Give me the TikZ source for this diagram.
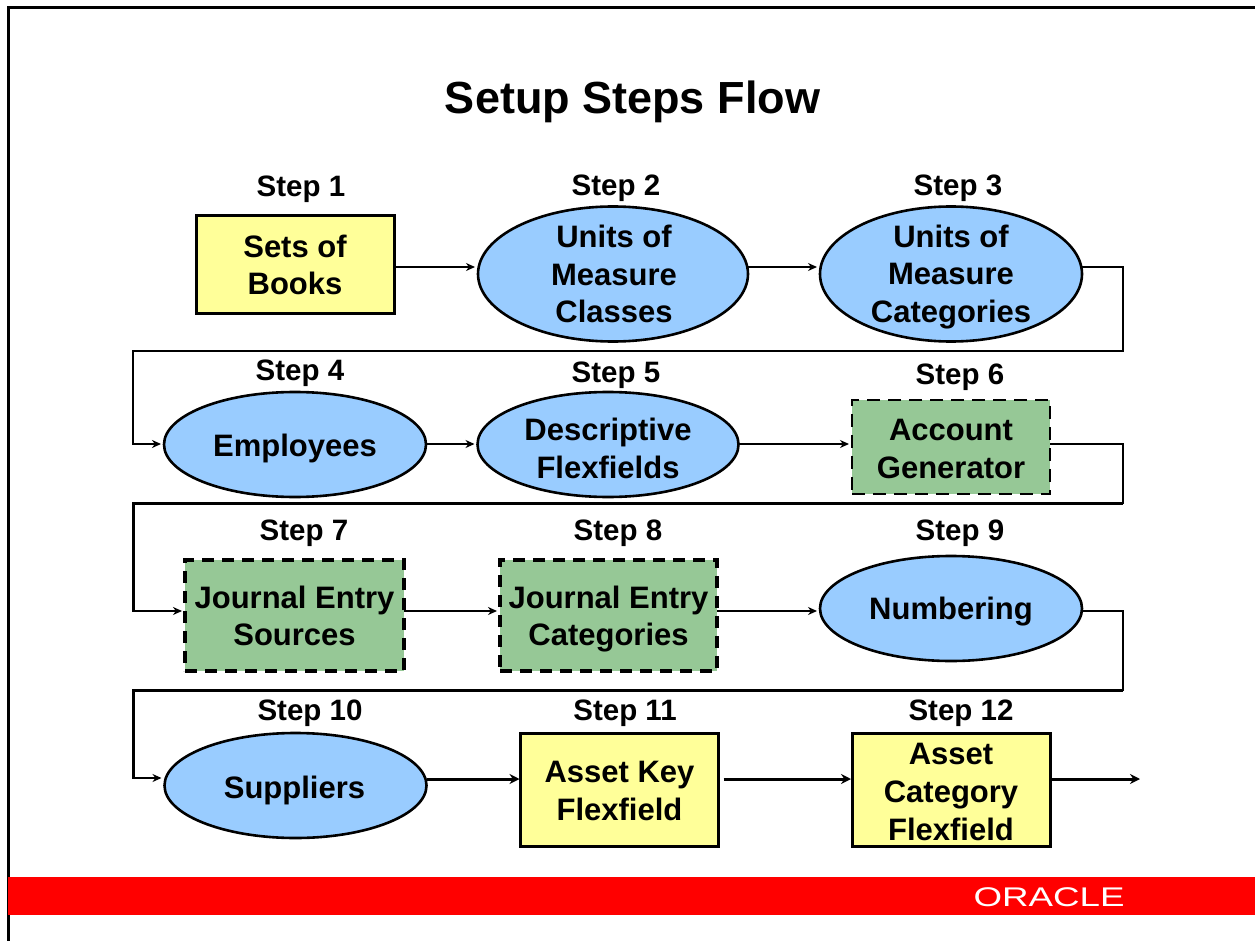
\documentclass[tikz,border=0pt]{standalone}
\usepackage{fontspec}
\setmainfont{Liberation Sans}
\usetikzlibrary{shapes.geometric,arrows.meta,calc}
\definecolor{byel}{HTML}{FFFF99}
\definecolor{bblu}{HTML}{99CCFF}
\definecolor{bgrn}{HTML}{96C896}
\tikzset{
  x=1pt,y=-1pt,
  txt/.style={font=\fontsize{31}{37.7}\selectfont\bfseries,align=center,inner sep=0pt,text=black},
  steplabel/.style={font=\fontsize{29.5}{34}\selectfont\bfseries,inner sep=0pt,text=black},
  shp/.style={inner sep=0pt,outer sep=0pt,draw=black},
  yellowbox/.style={shp,rectangle,fill=byel,line width=3pt},
  oval/.style={shp,ellipse,fill=bblu,line width=2.6pt},
  greenthin/.style={shp,rectangle,fill=bgrn,line width=2pt,dash pattern=on 13pt off 8pt},
  greenthick/.style={shp,rectangle,fill=bgrn,line width=3.2pt,dash pattern=on 12pt off 8pt},
  conn/.style={draw=black,line width=1.6pt,shorten >=3pt,-{Stealth[length=9pt,width=8pt]}},
  connthick/.style={draw=black,line width=3pt,shorten >=1pt,-{Stealth[length=10pt,width=10pt]}},
  rail/.style={draw=black,line width=3pt,line cap=butt},
}
\begin{document}
\begin{tikzpicture}[line join=miter]
\useasboundingbox (0,0) rectangle (1255,941);
\fill[white] (0,0) rectangle (1255,941);
% frame
\draw[line width=3pt,black] (8,941) -- (8,8) -- (1255,8);
% title
\node[inner sep=0pt,font=\fontsize{45}{50}\selectfont\bfseries] (title) at (632.5,102) {Setup Steps Flow};
% footer
\fill[red] (8,877) rectangle (1255,915);
\node[inner sep=0pt,text=white,font=\fontsize{27}{30}\selectfont,xscale=1.36,transform shape] (logo) at (1049,897) {ORACLE};
% rail coordinates
\coordinate (r1y) at (0,267);
\coordinate (r2y) at (0,444);
\coordinate (r3y) at (0,611);
\coordinate (r4y) at (0,778);
\coordinate (r4z) at (0,779);
\coordinate (rightx) at (1123,0);
\coordinate (leftx) at (133,0);
\coordinate (b1) at (0,351);
\coordinate (b2) at (0,503);
\coordinate (b3) at (0,690);
% row 1
\node[yellowbox,minimum width=198pt,minimum height=97pt] (s1) at (295,264.5) {};
\node[txt] (s1t) at (295,265) {Sets of\\Books};
\node[oval,minimum width=270pt,minimum height=135pt] (s2) at (613,274) {};
\node[txt] (s2t) at (614,274) {Units of\\Measure\\Classes};
\node[oval,minimum width=262pt,minimum height=135pt] (s3) at (951,274) {};
\node[txt] (s3t) at (951,277) {Units of\\Measure\\Categories};
% row 2
\node[oval,minimum width=262pt,minimum height=105pt] (s4) at (295,444.5) {};
\node[txt] (s4t) at (295,448) {Employees};
\node[oval,minimum width=261pt,minimum height=105pt] (s5) at (608,444.5) {};
\node[txt] (s5t) at (608,448.5) {Descriptive\\Flexfields};
\node[greenthin,minimum width=198pt,minimum height=94pt] (s6) at (951,447) {};
\node[txt] (s6t) at (951,449) {Account\\Generator};
% row 3
\node[greenthick,minimum width=219pt,minimum height=111pt] (s7) at (294.5,615.5) {};
\node[txt] (s7t) at (294.5,616) {Journal Entry\\Sources};
\node[greenthick,minimum width=217pt,minimum height=111pt] (s8) at (608.5,615.5) {};
\node[txt] (s8t) at (608.5,619) {Journal Entry\\Categories};
\node[oval,minimum width=262pt,minimum height=105pt] (s9) at (951,608.5) {};
\node[txt] (s9t) at (951,612) {Numbering};
% row 4
\node[oval,minimum width=262pt,minimum height=105pt] (s10) at (295.5,785.5) {};
\node[txt] (s10t) at (294.5,790) {Suppliers};
\node[yellowbox,minimum width=198pt,minimum height=113pt] (s11) at (619.5,789.5) {};
\node[txt] (s11t) at (619.5,791) {Asset Key\\Flexfield};
\node[yellowbox,minimum width=198pt,minimum height=113pt] (s12) at (951,789.5) {};
\node[txt] (s12t) at (951,792) {Asset\\Category\\Flexfield};
% step labels
\node[steplabel] (l1) at (301,189) {Step 1};
\node[steplabel] (l2) at (616,188) {Step 2};
\node[steplabel] (l3) at (958,188) {Step 3};
\node[steplabel] (l4) at (300,373) {Step 4};
\node[steplabel] (l5) at (616,375) {Step 5};
\node[steplabel] (l6) at (960,377) {Step 6};
\node[steplabel] (l7) at (304,533) {Step 7};
\node[steplabel] (l8) at (618,533) {Step 8};
\node[steplabel] (l9) at (960,533) {Step 9};
\node[steplabel] (l10) at (310,713) {Step 10};
\node[steplabel] (l11) at (625,713) {Step 11};
\node[steplabel] (l12) at (961,713) {Step 12};
% connectors
\draw[conn] (s1.east |- r1y) -- (s2.west |- r1y);
\draw[conn] (s2.east |- r1y) -- (s3.west |- r1y);
\draw[conn] (s3.east |- r1y) -- (rightx |- r1y) -- (rightx |- b1) -- (leftx |- b1) -- (leftx |- r2y) -- (s4.west |- r2y);
\draw[conn] (s4.east |- r2y) -- (s5.west |- r2y);
\draw[conn] (s5.east |- r2y) -- (s6.west |- r2y);
\draw[conn] (s6.east |- r2y) -- (rightx |- r2y) -- (rightx |- b2) -- (leftx |- b2) -- (leftx |- r3y) -- (s7.west |- r3y);
\draw[rail] (rightx |- b2) -- (leftx |- b2) -- (leftx |- r3y);
\draw[conn] (s7.east |- r3y) -- (s8.west |- r3y);
\draw[conn] (s8.east |- r3y) -- (s9.west |- r3y);
\draw[conn] (s9.east |- r3y) -- (rightx |- r3y) -- (rightx |- b3) -- (leftx |- b3) -- (leftx |- r4y) -- (s10.west |- r4y);
\draw[rail] (rightx |- b3) -- (leftx |- b3) -- (leftx |- r4y);
\draw[connthick] (s10.east |- r4z) -- (s11.west |- r4z);
\draw[connthick] ([xshift=5pt]s11.east |- r4z) -- (s12.west |- r4z);
\coordinate (endpt) at (1141,779);
\draw[connthick] (s12.east |- r4z) -- (endpt);
\end{tikzpicture}
\end{document}
